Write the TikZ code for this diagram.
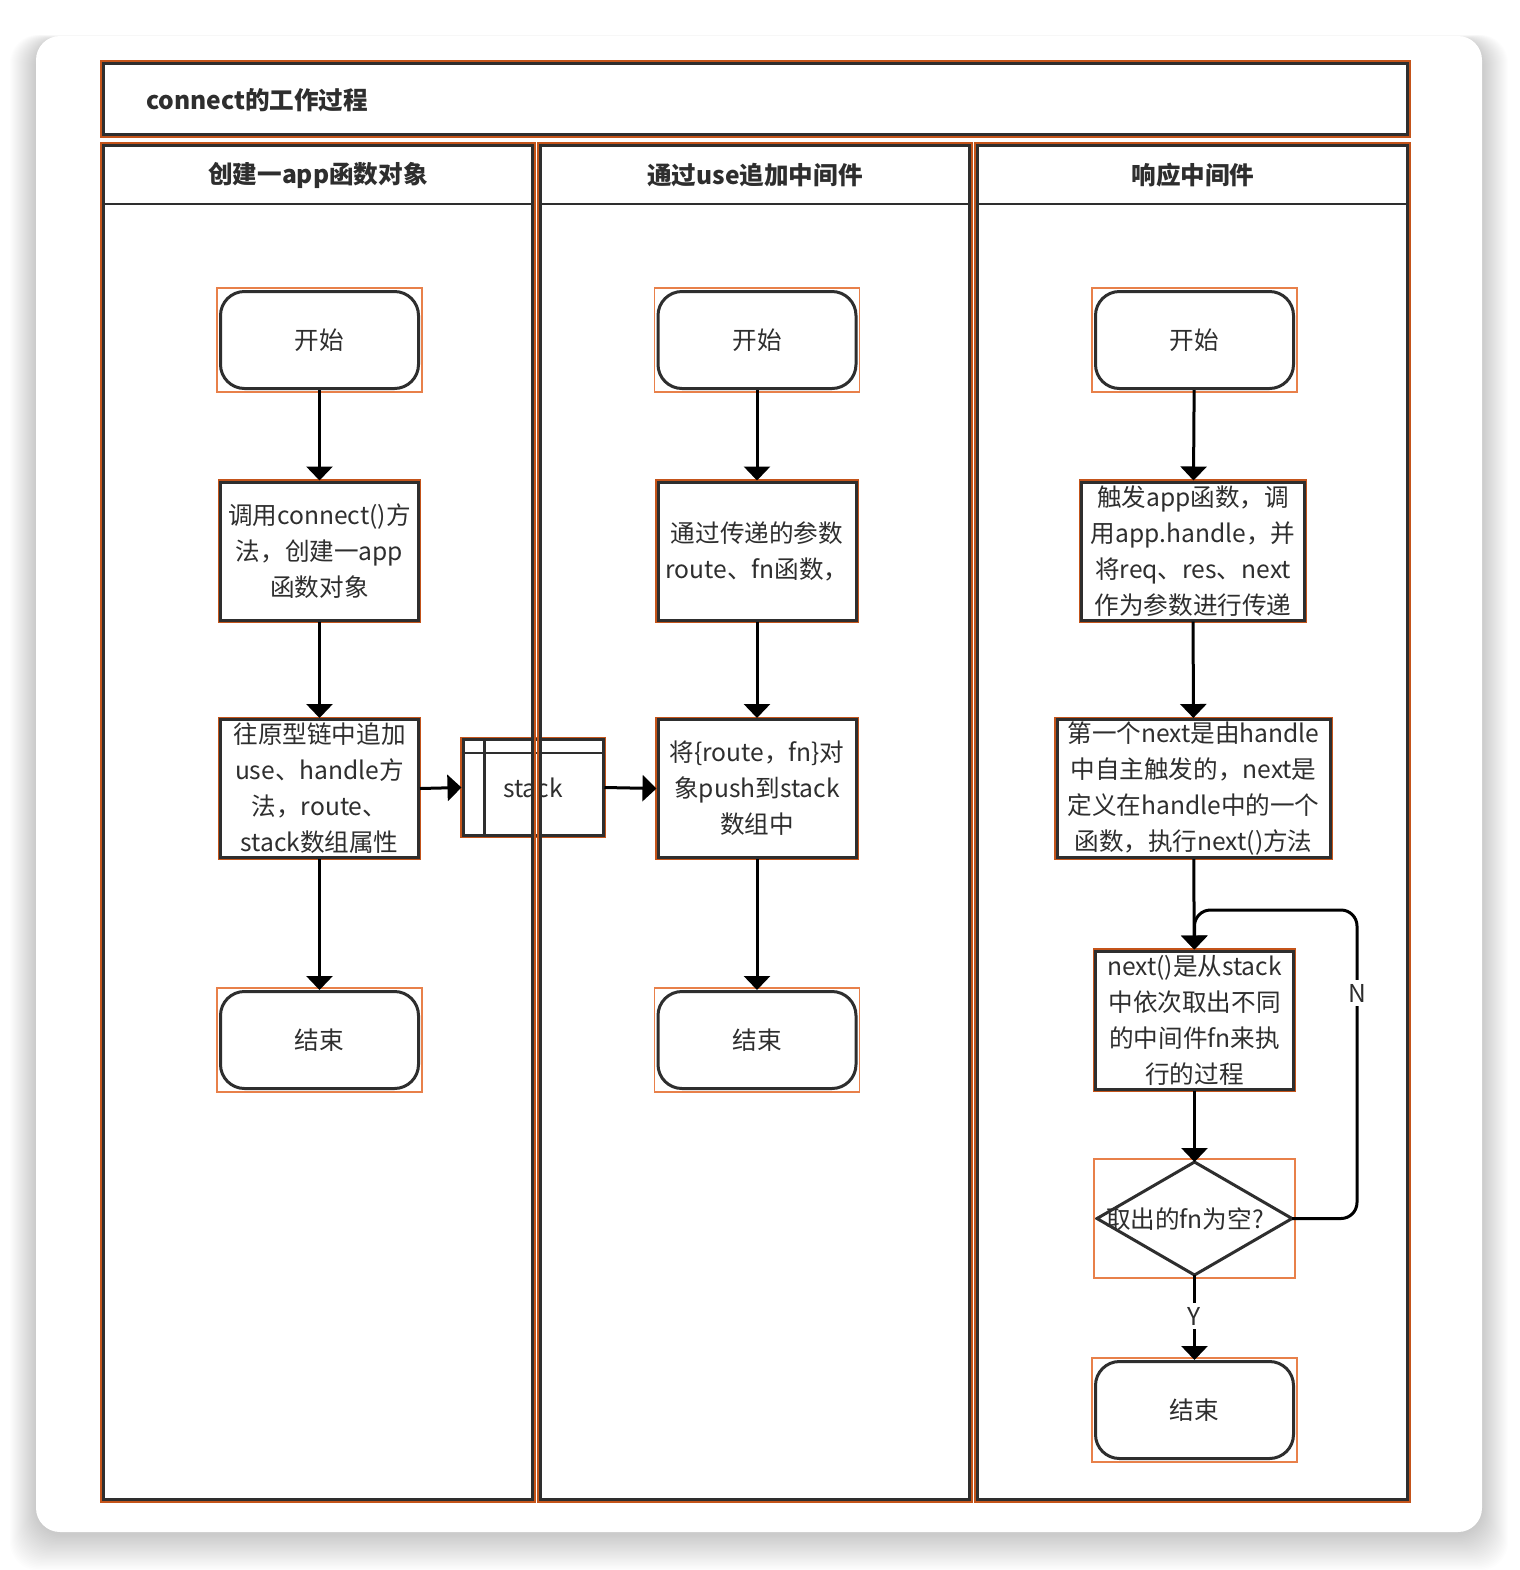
\documentclass[tikz,border=0pt]{standalone}
\usepackage{fontspec}
\setmainfont{Noto Sans CJK SC}
\usetikzlibrary{arrows.meta,fit}
\definecolor{orng}{HTML}{C4541A}
\definecolor{selo}{HTML}{E8804A}
\definecolor{dk}{HTML}{2E2E2E}
\begin{document}
\begin{tikzpicture}[x=0.5pt,y=-0.5pt,
  every node/.style={font=\fontsize{12.3pt}{18pt}\selectfont, text=dk},
  proc/.style={draw=dk, fill=white, line width=1.5pt, preaction={draw=orng, line width=2.8pt}, align=center, inner sep=0pt},
  term/.style={draw=dk, fill=white, line width=1.5pt, rounded corners=12pt, minimum width=99pt, minimum height=48.5pt, inner sep=0pt},
  sel/.style={draw=selo, line width=0.8pt, inner sep=1pt, fill=none},
  conn/.style={draw=black, line width=1.5pt, -{Triangle[width=13pt,length=7pt]}},
  lab/.style={fill=white, inner sep=2pt},
  hdr/.style={font=\fontsize{12.3pt}{18pt}\selectfont\bfseries}
]
\useasboundingbox (0,0) rectangle (1520,1570);
\fill[white] (0,0) rectangle (1520,1570);
% card shadow
\foreach \i in {1,...,26} {
  \fill[black, opacity=0.009, rounded corners=14] (36-\i*1.0,40-\i*0.2) rectangle (1482+\i*1.0,1534+\i*1.4);
}
\fill[white, rounded corners=12] (36,36) rectangle (1482,1532);

% title box
\draw[orng, line width=1.2pt] (101,61) rectangle (1410,137);
\draw[dk, line width=1.1pt] (103.5,63.5) rectangle (1407.5,134.5);
\node[hdr, anchor=west] (title) at (139,100) {connect的工作过程};

% stack (drawn before lane borders so the border passes over it)
\node[proc, minimum width=70pt, minimum height=48pt] (stack) at (533,787.5) {};
\draw[dk, line width=1.2pt] ([yshift=-7.5pt]stack.north west) -- ([yshift=-7.5pt]stack.north east);
\draw[dk, line width=1.2pt] ([xshift=11.5pt]stack.north west) -- ([xshift=11.5pt]stack.south west);
\node (stacktxt) at (533,788) {stack};

% lanes
\foreach \a/\b in {101/535, 538/972, 975/1410} {
  \draw[orng, line width=1.2pt] (\a,143) rectangle (\b,1502);
  \draw[dk, line width=1.1pt] (\a+2.5,145.5) rectangle (\b-2.5,1499.5);
  \draw[dk, line width=1.1pt] (\a+2.5,204) -- (\b-2.5,204);
}
\node[hdr] (h1) at (318,175) {创建一app函数对象};
\node[hdr] (h2) at (755,175) {通过use追加中间件};
\node[hdr] (h3) at (1193,175) {响应中间件};

% lane 1
\node[term] (s1) at (319.5,340) {开始};
\node[proc, minimum width=99pt, minimum height=69pt] (b1) at (319.5,551) {调用connect()方\\法，创建一app\\函数对象};
\node[proc, minimum width=99pt, minimum height=69pt] (b2) at (319.5,788.5) {往原型链中追加\\use、handle方\\法，route、\\stack数组属性};
\node[term] (e1) at (319.5,1040) {结束};

% lane 2
\node[term] (s2) at (757,340) {开始};
\node[proc, minimum width=99pt, minimum height=69pt] (b3) at (757,551) {通过传递的参数\\route、fn函数，};
\node[proc, minimum width=99pt, minimum height=69pt] (b4) at (757,788.5) {将\{route，fn\}对\\象push到stack\\数组中};
\node[term] (e2) at (757,1040) {结束};

% lane 3
\node[term] (s3) at (1194.5,340) {开始};
\node[proc, minimum width=111.5pt, minimum height=69pt] (b5) at (1193,551) {触发app函数，调\\用app.handle，并\\将req、res、next\\作为参数进行传递};
\node[proc, minimum width=136.5pt, minimum height=69pt] (b6) at (1193.5,788.5) {第一个next是由handle\\中自主触发的，next是\\定义在handle中的一个\\函数，执行next()方法};
\node[proc, minimum width=99pt, minimum height=69pt] (b7) at (1194.5,1020) {next()是从stack\\中依次取出不同\\的中间件fn来执\\行的过程};
\node[minimum width=97.5pt, minimum height=56.5pt, inner sep=0pt, outer sep=0pt] (d) at (1194.5,1218.5) {};
\draw[dk, fill=white, line width=1.5pt, line join=miter] (d.north) -- (d.east) -- (d.south) -- (d.west) -- cycle;
\node (dtxt) at (1185,1219) {取出的fn为空?};
\node[term] (e3) at (1194.5,1410) {结束};

% selection boxes
\foreach \n in {s1,e1,s2,e2,s3,e3} { \node[sel, fit=(\n)] (sel\n) {}; }
\node[sel, fit=(d), inner sep=1.5pt] (seld) {};

% connectors
\draw[conn] (s1) -- (b1);
\draw[conn] (b1) -- (b2);
\draw[conn] (b2) -- (e1);
\draw[conn] (b2.east) -- (stack.west);
\draw[conn] (stack.east) -- (b4.west);
\draw[conn] (s2) -- (b3);
\draw[conn] (b3) -- (b4);
\draw[conn] (b4) -- (e2);
\draw[conn] (s3) -- (b5);
\draw[conn] (b5) -- (b6);
\draw[conn] (b6) -- (b7);
\draw[conn] (b7) -- (d.north);
\coordinate (lc) at (1357,910);
\draw[conn, rounded corners=8] (d.east) -- (d.east -| lc) -- (lc) -- (lc -| b7.north) -- (b7.north);
\draw[conn] (d.south) -- (e3);
\node[lab] (nl) at (1357,993) {N};
\node[lab] (yl) at (1194.5,1316) {Y};
\end{tikzpicture}
\end{document}
